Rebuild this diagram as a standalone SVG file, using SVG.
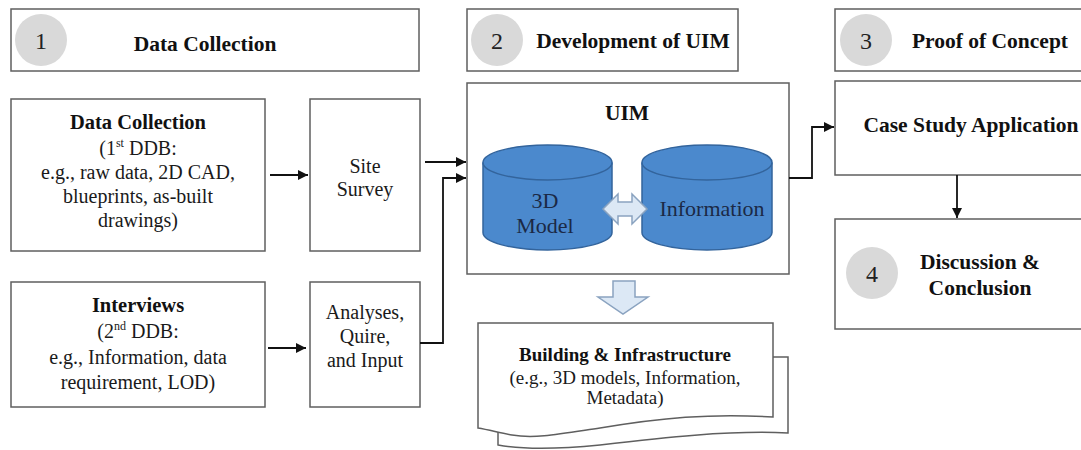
<svg xmlns="http://www.w3.org/2000/svg" width="1081" height="450" viewBox="0 0 1081 450">
  <style>
    .box { fill: #ffffff; stroke: #5f5f5f; stroke-width: 1.5; }
    .badge { fill: #d9d9d9; stroke: none; }
    .num { font-family: "Liberation Serif", "DejaVu Serif", serif; font-size: 24px; fill: #222; text-anchor: middle; }
    .head { font-family: "Liberation Serif", "DejaVu Serif", serif; font-size: 21.5px; font-weight: bold; fill: #111; text-anchor: middle; }
    .txt { font-family: "Liberation Serif", "DejaVu Serif", serif; font-size: 20px; fill: #1a1a1a; text-anchor: middle; }
    .sub { font-family: "Liberation Serif", "DejaVu Serif", serif; font-size: 19px; fill: #1a1a1a; text-anchor: middle; }
    .cyl { fill: #4b89cd; stroke: #33649c; stroke-width: 1.5; }
    .cyltxt { font-family: "Liberation Serif", "DejaVu Serif", serif; font-size: 22px; fill: #1b2946; text-anchor: middle; }
    .block { fill: #dce8f5; stroke: #8aa3c0; stroke-width: 1.5; }
    .wire { fill: none; stroke: #111; stroke-width: 1.8; }
  </style>
  <defs>
    <marker id="tip" viewBox="0 0 10 10" refX="10" refY="5" markerWidth="10" markerHeight="10" markerUnits="userSpaceOnUse" orient="auto">
      <path d="M0,0 L10,5 L0,10 Z" fill="#111"/>
    </marker>
  </defs>

  <!-- Stage headers -->
  <g id="stage-1">
    <rect class="box" x="11" y="9" width="408" height="62"/>
    <circle class="badge" cx="41" cy="40" r="26"/>
    <text class="num" x="41" y="49">1</text>
    <text class="head" x="205" y="51">Data Collection</text>
  </g>
  <g id="stage-2">
    <rect class="box" x="467" y="9" width="271" height="62"/>
    <circle class="badge" cx="497" cy="40" r="26"/>
    <text class="num" x="497" y="49">2</text>
    <text class="head" x="633" y="48">Development of UIM</text>
  </g>
  <g id="stage-3">
    <rect class="box" x="835" y="9" width="260" height="62"/>
    <circle class="badge" cx="866" cy="40" r="26"/>
    <text class="num" x="866" y="49">3</text>
    <text class="head" x="990" y="48">Proof of Concept</text>
  </g>

  <!-- Data sources -->
  <g id="data-collection">
    <rect class="box" x="11" y="99" width="254" height="152"/>
    <text class="head" x="138" y="129" style="font-size:20.5px">Data Collection</text>
    <text class="txt" x="138" y="155">(1<tspan font-size="12" dy="-8">st</tspan><tspan dy="8"> DDB:</tspan></text>
    <text class="txt" x="138" y="179">e.g., raw data, 2D CAD,</text>
    <text class="txt" x="138" y="203">blueprints, as-built</text>
    <text class="txt" x="138" y="227">drawings)</text>
  </g>
  <g id="site-survey">
    <rect class="box" x="310" y="99" width="110" height="152"/>
    <text class="txt" x="365" y="173">Site</text>
    <text class="txt" x="365" y="196">Survey</text>
  </g>
  <g id="interviews">
    <rect class="box" x="11" y="282" width="254" height="125"/>
    <text class="head" x="138" y="312" style="font-size:20.5px">Interviews</text>
    <text class="txt" x="138" y="338">(2<tspan font-size="12" dy="-8">nd</tspan><tspan dy="8"> DDB:</tspan></text>
    <text class="txt" x="138" y="364">e.g., Information, data</text>
    <text class="txt" x="138" y="389">requirement, LOD)</text>
  </g>
  <g id="analyses">
    <rect class="box" x="310" y="282" width="110" height="125"/>
    <text class="txt" x="365" y="319">Analyses,</text>
    <text class="txt" x="365" y="343">Quire,</text>
    <text class="txt" x="365" y="367">and Input</text>
  </g>

  <!-- UIM with its two stores -->
  <g id="uim">
    <rect class="box" x="467" y="83" width="322" height="191"/>
    <text class="head" x="627" y="120">UIM</text>
    <g id="store-3d-model">
      <path class="cyl" d="M483,162.5 V232.5 A64.5,17.5 0 0 0 612,232.5 V162.5"/>
      <ellipse class="cyl" cx="547.5" cy="162.5" rx="64.5" ry="17.5"/>
      <text class="cyltxt" x="545" y="208">3D</text>
      <text class="cyltxt" x="545" y="233">Model</text>
    </g>
    <g id="store-information">
      <path class="cyl" d="M642,162.5 V232.5 A65,17.5 0 0 0 772,232.5 V162.5"/>
      <ellipse class="cyl" cx="707" cy="162.5" rx="65" ry="17.5"/>
      <text class="cyltxt" x="712" y="216">Information</text>
    </g>
    <path id="link-both-ways" class="block" d="M603,209 L618,194 V202 H632 V194 L647,209 L632,224 V216 H618 V224 Z"/>
  </g>

  <!-- Output stack -->
  <g id="output-arrow">
    <path class="block" d="M613,281 H635 V297 H648 L623,314 L598,297 H613 Z"/>
  </g>
  <g id="building-infrastructure">
    <path class="box" d="M498,357 H788 V433 C730,430 660,438 600,445 C560,449 525,450 498,445 Z"/>
    <path class="box" d="M478,323 H773 V417 C710,413 660,418 600,428 C560,434 535,439 512,435 C500,433 490,430 478,428 Z"/>
    <text class="head" x="625" y="361" style="font-size:19px">Building &amp; Infrastructure</text>
    <text class="sub" x="625" y="384">(e.g., 3D models, Information,</text>
    <text class="sub" x="625" y="404">Metadata)</text>
  </g>

  <!-- Proof of concept -->
  <g id="case-study">
    <rect class="box" x="835" y="81" width="260" height="94"/>
    <text class="head" x="971" y="132">Case Study Application</text>
  </g>
  <g id="discussion">
    <rect class="box" x="835" y="219" width="260" height="110"/>
    <circle class="badge" cx="872" cy="273" r="26"/>
    <text class="num" x="872" y="282">4</text>
    <text class="head" x="980" y="269">Discussion &amp;</text>
    <text class="head" x="980" y="295">Conclusion</text>
  </g>

  <!-- Connectors -->
  <g id="connectors">
    <path class="wire" d="M270,175 H308" marker-end="url(#tip)"/>
    <path class="wire" d="M268,348 H306" marker-end="url(#tip)"/>
    <path class="wire" d="M425,162 H466" marker-end="url(#tip)"/>
    <path class="wire" d="M420,343 H443 V178 H466" marker-end="url(#tip)"/>
    <path class="wire" d="M789,178 H812 V127 H834" marker-end="url(#tip)"/>
    <path class="wire" d="M957,175 V218" marker-end="url(#tip)"/>
  </g>
</svg>
